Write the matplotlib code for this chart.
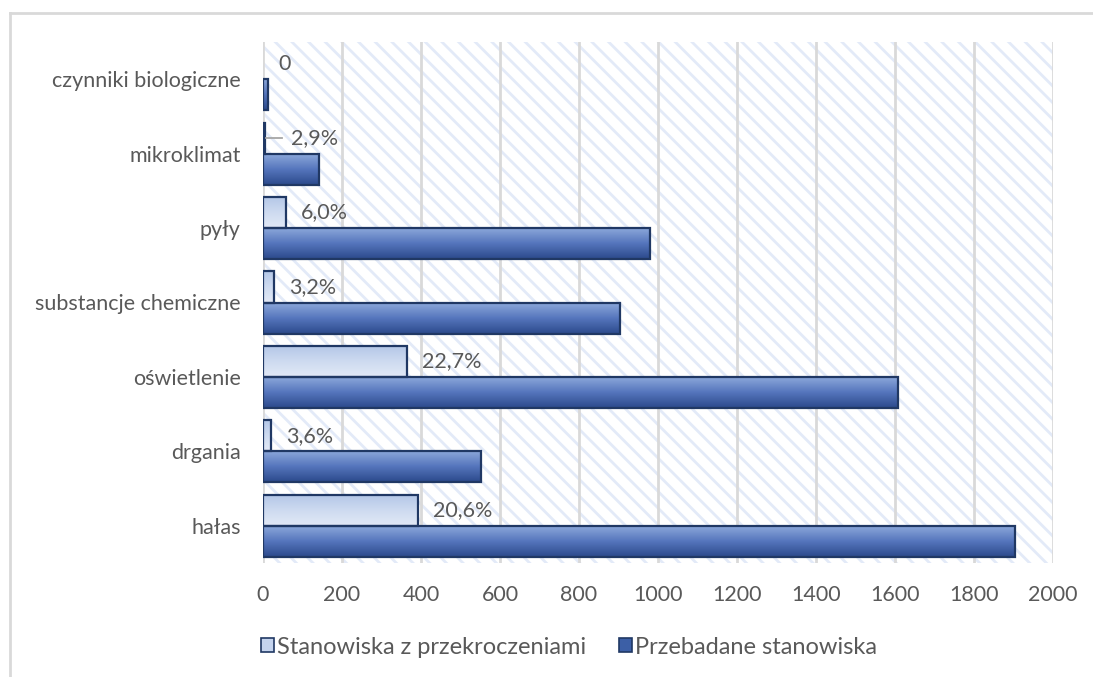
import numpy as np
import matplotlib
matplotlib.use('Agg')
import matplotlib.pyplot as plt
from matplotlib.patches import Rectangle, Patch
from matplotlib.colors import LinearSegmentedColormap
from matplotlib.lines import Line2D

plt.rcParams['font.family'] = ['Lato', 'DejaVu Sans']
plt.rcParams['hatch.linewidth'] = 2.0
plt.rcParams['hatch.color'] = '#e3eaf8'

# categories listed bottom to top
categories = ['hałas', 'drgania', 'oświetlenie', 'substancje chemiczne',
              'pyły', 'mikroklimat', 'czynniki biologiczne']
tested = [1905, 553, 1607, 905, 979, 141, 13]          # Przebadane stanowiska
exceed_pct = [20.6, 3.6, 22.7, 3.2, 6.0, 2.9, 0.0]    # share of exceeded positions, %
exceeded = [t * p / 100 for t, p in zip(tested, exceed_pct)]
xticks = [0, 200, 400, 600, 800, 1000, 1200, 1400, 1600, 1800, 2000]

W, H = 1093, 677
fig = plt.figure(figsize=(W / 100, H / 100), dpi=100)
ax = fig.add_axes([263 / W, 1 - 563 / H, 790 / W, 521 / H])

text_col = '#595959'
edge_col = '#203864'
fs = 15.5
# colour lists run from the top edge of a bar to its bottom edge
dark_cmap = LinearSegmentedColormap.from_list('dark', ['#8eaadc', '#5676bd', '#2c4a8c'])
light_cmap = LinearSegmentedColormap.from_list('light', ['#b3c6e7', '#cddaf0', '#e2e9f6'])

# hatched plot area background
ax.add_patch(Rectangle((0, 0), 1, 1, transform=ax.transAxes, facecolor='white',
                       hatch='\\\\', edgecolor='#e3eaf8', linewidth=0, zorder=0))
for x in xticks:
    ax.axvline(x, color='#d9d9d9', lw=2, zorder=1)

h = 0.417
y = np.arange(len(categories))
grad = np.linspace(1, 0, 64).reshape(-1, 1)  # row 0 = bottom with origin='lower'


def gradient_bar(x1, yc, cmap):
    y0, y1 = yc - h / 2, yc + h / 2
    ax.imshow(grad, cmap=cmap, origin='lower', extent=[0, x1, y0, y1],
              aspect='auto', interpolation='bilinear', zorder=2)
    ax.add_patch(Rectangle((0, y0), x1, h, facecolor='none', edgecolor=edge_col,
                           lw=1.6, zorder=3))


for i in range(len(categories)):
    if exceeded[i] > 0:
        gradient_bar(exceeded[i], y[i] + h / 2, light_cmap)
    gradient_bar(tested[i], y[i] - h / 2, dark_cmap)

# data labels
px = 2000 / 790
for i in range(len(categories)):
    label = '0' if exceed_pct[i] == 0 else f'{exceed_pct[i]:.1f}%'.replace('.', ',')
    off = 15 * px
    if categories[i] == 'mikroklimat':
        off = 26 * px
        ax.add_line(Line2D([exceeded[i] + 1 * px, exceeded[i] + 17 * px],
                           [y[i] + h / 2] * 2, color='#a6a6a6', lw=1.3, zorder=4))
    ax.text(exceeded[i] + off, y[i] + h / 2, label, ha='left', va='center',
            fontsize=fs, color=text_col, zorder=5)

ax.set_xlim(0, 2000)
ax.set_ylim(-0.5, len(categories) - 0.5)
ax.set_xticks(xticks)
ax.set_xticklabels([str(v) for v in xticks], fontsize=fs, color=text_col)
ax.set_yticks(y)
ax.set_yticklabels(categories, fontsize=fs, color=text_col)
ax.tick_params(axis='x', length=0, pad=16)
ax.tick_params(axis='y', length=0, pad=16)
for s in ax.spines.values():
    s.set_visible(False)

handles = [Patch(facecolor='#c5d4ee', edgecolor=edge_col, lw=1.2),
           Patch(facecolor='#3c5fa6', edgecolor=edge_col, lw=1.2)]
fig.legend(handles, ['Stanowiska z przekroczeniami', 'Przebadane stanowiska'],
           loc='center left', bbox_to_anchor=(249 / W, 1 - 647 / H), ncol=2,
           frameon=False, fontsize=17, handlelength=0.55, handleheight=0.55,
           handletextpad=0.12, columnspacing=1.4, borderpad=0, labelcolor=text_col)

# chart frame
fig.add_artist(Line2D([10 / W, 1], [1 - 12.5 / H] * 2, color='#d9d9d9', lw=2))
fig.add_artist(Line2D([10 / W] * 2, [0, 1 - 12.5 / H], color='#d9d9d9', lw=2))

fig.savefig('out.png', dpi=100)
